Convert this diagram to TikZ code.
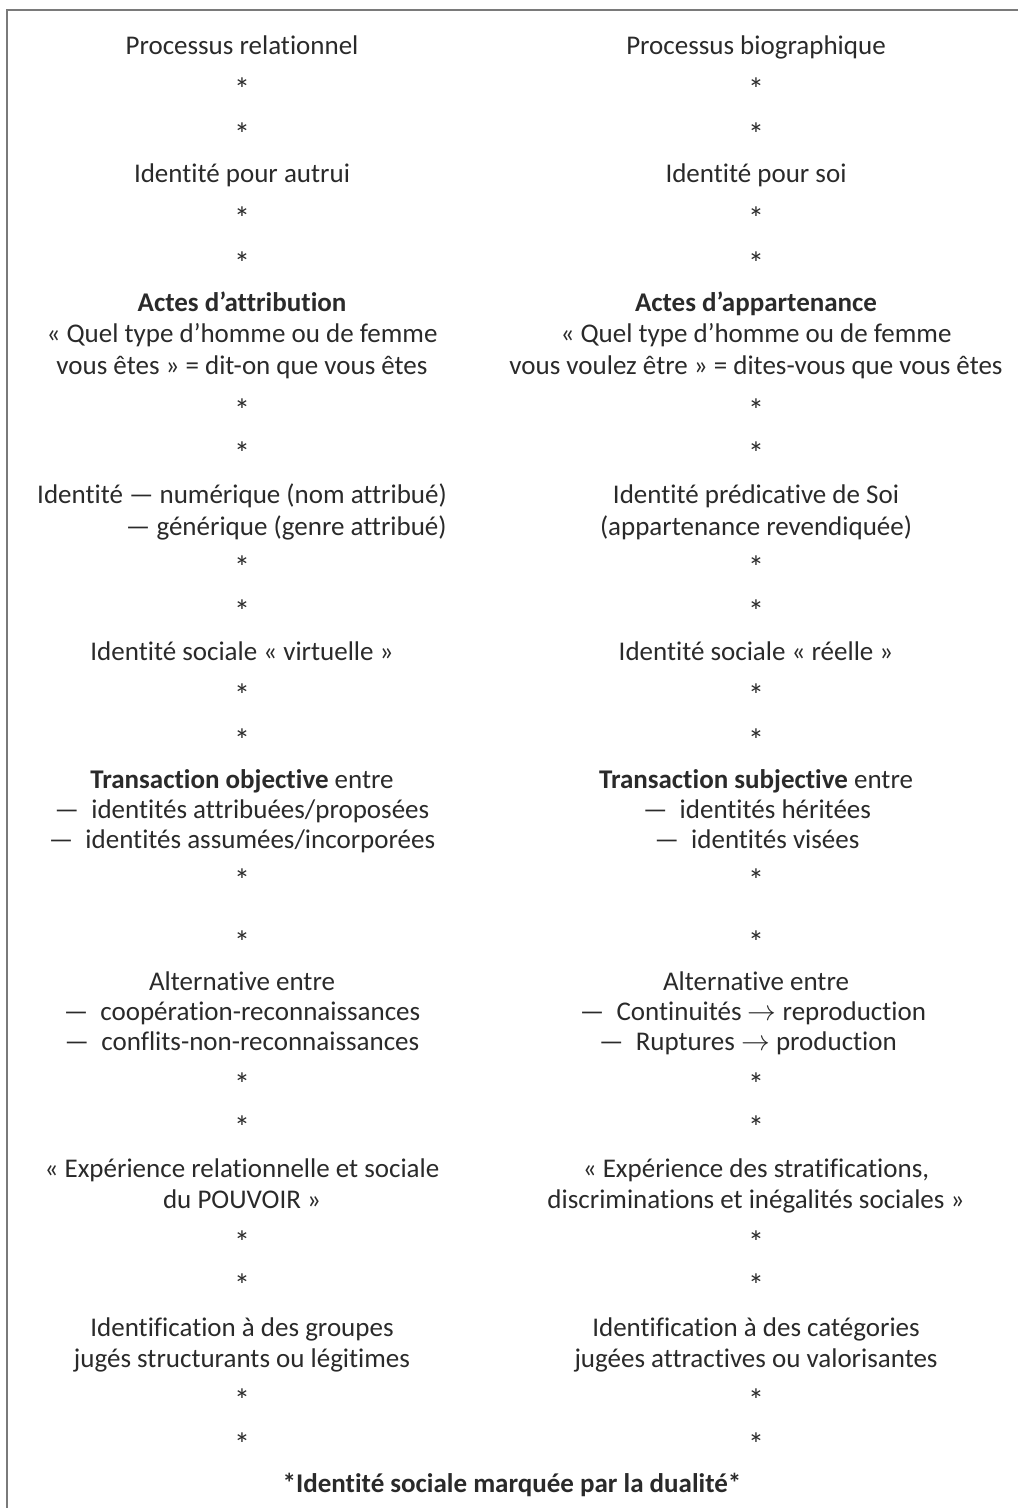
\documentclass[tikz,border=0pt]{standalone}
\usepackage{fontspec}
\setmainfont{Carlito}[Ligatures={TeX,NoCommon}]
\definecolor{ink}{HTML}{2A2A2A}
\definecolor{frame}{HTML}{7A7A7A}
\newcommand{\tto}{\smash{$\rightarrow$}}

\begin{document}
\begin{tikzpicture}[x=0.5pt,y=-0.5pt,
  every node/.style={text=ink, inner sep=0pt, anchor=base, font=\fontsize{13.5}{16}\selectfont},
  hd/.style={font=\fontsize{13.5}{16}\selectfont\bfseries},
  star/.style={font=\fontsize{16}{18}\selectfont}]
\useasboundingbox (0,0) rectangle (1018,1508);
\draw[frame, line width=1.1pt] (7,1508) -- (7,10) -- (1018,10);

% left column
\node (lproc) at (242,55) {Processus relationnel};
\node (lida) at (242,183) {Identité pour autrui};
\node[hd] (lactes) at (242,312) {Actes d’attribution};
\node (lquel) at (242,343) {«~Quel type d’homme ou de femme};
\node (lvous) at (242,374) {vous êtes~» = dit-on que vous êtes};
\node (lnum) at (242,503) {Identité — numérique (nom attribué)};
\node[anchor=base east] (lgen) at (447,535) {— générique (genre attribué)};
\node (lvirt) at (242,660) {Identité sociale «~virtuelle~»};
\node (ltrans) at (242,788) {\textbf{Transaction objective} entre};
\node (lattr) at (242,818) {—\ \ identités attribuées/proposées};
\node (lassu) at (242,848) {—\ \ identités assumées/incorporées};
\node (lalt) at (242,990) {Alternative entre};
\node (lcoop) at (242,1020) {—\ \ coopération-reconnaissances};
\node (lconf) at (242,1050) {—\ \ conflits-non-reconnaissances};
\node (lexp) at (242,1177) {«~Expérience relationnelle et sociale};
\node (lpouv) at (242,1208) {du POUVOIR~»};
\node (lident) at (242,1336) {Identification à des groupes};
\node (ljuges) at (242,1367) {jugés structurants ou légitimes};

% right column
\node (rproc) at (756,55) {Processus biographique};
\node (rids) at (756,183) {Identité pour soi};
\node[hd] (ractes) at (756,312) {Actes d’appartenance};
\node (rquel) at (756,343) {«~Quel type d’homme ou de femme};
\node (rvous) at (756,374) {vous voulez être~» = dites-vous que vous êtes};
\node (rpred) at (756,503) {Identité prédicative de Soi};
\node (rapp) at (756,535) {(appartenance revendiquée)};
\node (rreel) at (756,660) {Identité sociale «~réelle~»};
\node (rtrans) at (756,788) {\textbf{Transaction subjective} entre};
\node (rher) at (757,818) {—\ \ identités héritées};
\node (rvis) at (757,848) {—\ \ identités visées};
\node (ralt) at (756,990) {Alternative entre};
\node (rcont) at (753,1020) {—\ \ Continuités \tto{} reproduction};
\node (rrupt) at (748,1050) {—\ \ Ruptures \tto{} production};
\node (rexp) at (756,1177) {«~Expérience des stratifications,};
\node (rdisc) at (756,1208) {discriminations et inégalités sociales~»};
\node (rident) at (756,1336) {Identification à des catégories};
\node (rjuges) at (756,1367) {jugées attractives ou valorisantes};

% asterisks between the steps
\foreach \y [count=\i] in {83,128,212,257,403,446,560,604,688,733,873,935,1077,1120,1235,1278,1393,1437}{
  \node[star] (ls\i) at (242,\y+18) {*};
  \node[star] (rs\i) at (756,\y+18) {*};
}

\node[hd] (dual) at (512,1492) {*Identité sociale marquée par la dualité*};
\end{tikzpicture}
\end{document}
